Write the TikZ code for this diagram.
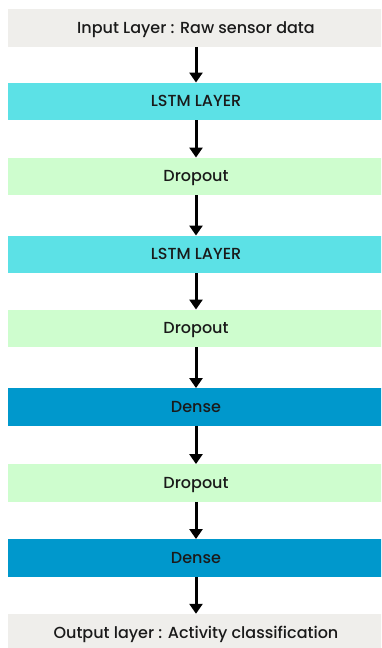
\documentclass[tikz,border=0pt]{standalone}
\usepackage{fontspec}
\setmainfont{Poppins}[UprightFont=* Medium]
\usetikzlibrary{arrows.meta}
\definecolor{inputgray}{HTML}{EFEEEB}
\definecolor{lstmcyan}{HTML}{5CE1E6}
\definecolor{dropgreen}{HTML}{CEFDCE}
\definecolor{denseblue}{HTML}{0098CC}
\definecolor{txt}{HTML}{1A1A1A}
\tikzset{
  layerbox/.style={rectangle, draw=none, minimum width=377pt, minimum height=37.5pt,
    inner sep=0pt, text height=1.05em, text depth=0pt,
    font=\fontsize{16}{19}\selectfont, text=txt},
  inbox/.style={layerbox, fill=inputgray},
  lstmbox/.style={layerbox, fill=lstmcyan},
  dropbox/.style={layerbox, fill=dropgreen},
  densebox/.style={layerbox, fill=denseblue},
  flow/.style={line width=3pt, -{Triangle[width=13pt,length=10pt]}, black}
}
\begin{document}
\begin{tikzpicture}[x=1pt,y=1pt]
\useasboundingbox (0,0) rectangle (381,-648);
\clip (0,0) rectangle (381,-648);
\node[inbox]    (in)  at (196,-28)    {Input Layer : Raw sensor data};
\node[lstmbox]  (l1)  at (196,-101.5) {LSTM LAYER};
\node[dropbox]  (d1)  at (196,-176.5) {Dropout};
\node[lstmbox]  (l2)  at (196,-254.5) {LSTM LAYER};
\node[dropbox]  (d2)  at (196,-328.5) {Dropout};
\node[densebox] (de1) at (196,-407)   {Dense};
\node[dropbox]  (d3)  at (196,-483)   {Dropout};
\node[densebox] (de2) at (196,-558)   {Dense};
\node[inbox, minimum height=38pt] (out) at (196,-633) {Output layer : Activity classification};
\draw[flow] (in.south)  -- (l1.north);
\draw[flow] (l1.south)  -- (d1.north);
\draw[flow] (d1.south)  -- (l2.north);
\draw[flow] (l2.south)  -- (d2.north);
\draw[flow] (d2.south)  -- (de1.north);
\draw[flow] (de1.south) -- (d3.north);
\draw[flow] (d3.south)  -- (de2.north);
\draw[flow] (de2.south) -- (out.north);
\end{tikzpicture}
\end{document}
